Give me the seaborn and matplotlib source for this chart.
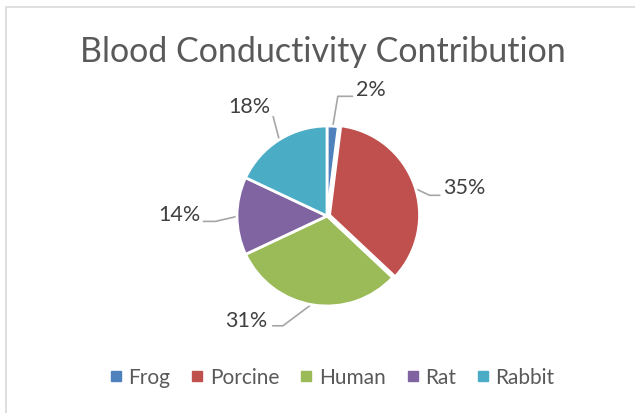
import matplotlib
matplotlib.use("Agg")
import matplotlib.pyplot as plt
import seaborn as sns
import numpy as np
from matplotlib.patches import Rectangle

sns.set_theme(style="white")
plt.rcParams['font.family'] = ['Lato', 'DejaVu Sans']

categories = ["Frog", "Porcine", "Human", "Rat", "Rabbit"]
values = [2, 35, 31, 14, 18]
colors = ["#4F81BD", "#C0504D", "#9BBB59", "#8064A2", "#4BACC6"]
title = "Blood Conductivity Contribution"

W, H = 635, 414
fig = plt.figure(figsize=(W / 100, H / 100), dpi=100)
fig.patch.set_facecolor("white")

# chart border
fig.patches.append(Rectangle((6 / W, -0.1), 1.2, 1 - 8 / H + 0.1, transform=fig.transFigure,
                             fill=False, edgecolor="#D9D9D9", linewidth=1.2))

cx, cy, R = 327, 217, 90
span = 1.5
ax = fig.add_axes([(cx - span * R) / W, (H - cy - span * R) / H, 2 * span * R / W, 2 * span * R / H])

explode = [0, 0.03, 0, 0, 0]
wedges, _ = ax.pie(values, colors=colors, startangle=90, counterclock=False,
                   explode=explode, radius=1.0,
                   wedgeprops=dict(edgecolor="white", linewidth=2.0))
ax.set_xlim(-span, span)
ax.set_ylim(-span, span)
ax.set_aspect("equal")
ax.axis("off")

# label layout: (elbow, line end, text pos, ha)
layout = [
    ((0.12, 1.33), (0.29, 1.33), (0.32, 1.41), "left"),
    ((1.14, 0.23), (1.26, 0.23), (1.29, 0.32), "left"),
    ((-0.49, -1.22), (-0.61, -1.22), (-0.66, -1.16), "right"),
    ((-1.24, -0.06), (-1.38, -0.06), (-1.41, 0.02), "right"),
    ((-0.60, 1.11), (-0.60, 1.11), (-0.86, 1.22), "center"),
]
total = sum(values)
for w, v, (elbow, end, tpos, ha) in zip(wedges, values, layout):
    ang = np.deg2rad((w.theta1 + w.theta2) / 2)
    sx, sy = np.cos(ang) * 0.98, np.sin(ang) * 0.98
    ax.plot([sx, elbow[0], end[0]], [sy, elbow[1], end[1]], color="#A6A6A6", lw=1.2,
            solid_capstyle="butt", zorder=0.5)
    ax.text(tpos[0], tpos[1], f"{round(v / total * 100)}%", ha=ha, va="center",
            fontsize=15.5, color="#404040")

fig.text(323 / W, 1 - 52 / H, title, ha="center", va="center", fontsize=24.5, color="#595959")

handles = [plt.Line2D([], [], marker="s", linestyle="", markersize=6.5, color=c) for c in colors]
fig.legend(handles, categories, loc="center", bbox_to_anchor=(331 / W, 1 - 378 / H), ncol=5,
           frameon=False, fontsize=15, handletextpad=0.2, columnspacing=0.9,
           labelcolor="#595959", handlelength=0.8)

fig.savefig("out.png", dpi=100, facecolor="white")
